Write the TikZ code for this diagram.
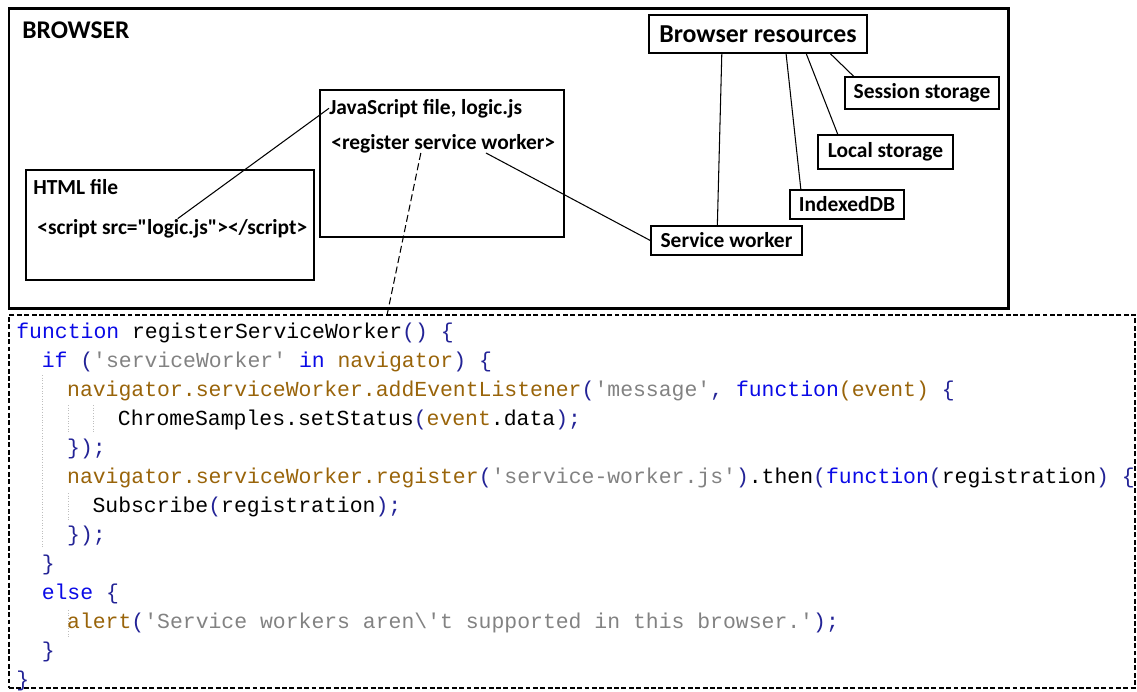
\documentclass[tikz,border=0pt]{standalone}
\usepackage{fontspec}
\setmainfont{Carlito}
\newfontfamily\codefont{Liberation Mono}
\usetikzlibrary{calc,fit}

\definecolor{jsblue}{RGB}{10,10,230}
\definecolor{jsbrown}{RGB}{153,100,10}
\definecolor{jsgray}{RGB}{130,130,130}
\definecolor{jsnavy}{RGB}{35,35,150}
\definecolor{guide}{RGB}{190,190,190}

\newcommand{\jskw}[1]{\textcolor{jsblue}{#1}}
\newcommand{\jsvar}[1]{\textcolor{jsbrown}{#1}}
\newcommand{\jsstr}[1]{\textcolor{jsgray}{#1}}
\newcommand{\jspun}[1]{\textcolor{jsnavy}{#1}}

\tikzset{
  frame/.style={draw, line width=1.7pt, inner sep=0pt},
  filebox/.style={draw, line width=0.8pt, inner sep=0pt},
  resbox/.style={draw, line width=0.8pt, inner sep=0pt,
    font=\bfseries\fontsize{12.2}{14}\selectfont},
  lbl/.style={anchor=base west, inner sep=0pt,
    font=\bfseries\fontsize{12.2}{14}\selectfont},
  cline/.style={anchor=base west, inner sep=0pt,
    font=\codefont\fontsize{12.2}{14}\selectfont},
  link/.style={line width=0.6pt},
  indent/.style={guide, densely dotted, line width=0.5pt}
}

\begin{document}
\begin{tikzpicture}[x=0.02cm, y=-0.02cm]
  \useasboundingbox (0,0) rectangle (1137,691);

  % browser frame
  \node[frame, fit={(9,8) (1008,308)}] (browser) {};
  \node[lbl, font=\bfseries\fontsize{14.5}{16}\selectfont] (title) at (22,38) {BROWSER};

  % html file
  \node[filebox, fit={(26,170) (314,280)}] (html) {};
  \node[lbl] (htmlname) at (33,194) {HTML file};
  \node[lbl] (htmltag) at (37,234) {<script src=\textquotedbl logic.js\textquotedbl></script>};

  % javascript file
  \node[filebox, fit={(320,90) (564,237)}] (js) {};
  \node[lbl] (jsname) at (329,114) {JavaScript file, logic.js};
  \node[lbl] (jsreg) at (331,149) {<register service worker>};

  % browser resources
  \node[resbox, minimum width=4.36cm, minimum height=0.76cm,
    font=\bfseries\fontsize{14.7}{16}\selectfont] (res) at (758,34) {Browser resources};
  \node[resbox, minimum width=3.08cm, minimum height=0.64cm] (session) at (922,93) {Session storage};
  \node[resbox, minimum width=2.7cm, minimum height=0.68cm] (local) at (885.5,152) {Local storage};
  \node[resbox, minimum width=2.28cm, minimum height=0.58cm] (idb) at (847,204.5) {IndexedDB};
  \node[resbox, minimum width=3.02cm, minimum height=0.58cm] (sw) at (726.5,240.5) {Service worker};

  \draw[link] ($(htmltag.north west)!0.52!(htmltag.north east)$) -- (jsname.west);
  \draw[link] ($(jsreg.south west)!0.69!(jsreg.south east)$) -- (sw.west);
  \draw[link] ($(res.south west)!0.335!(res.south east)$) -- ($(sw.north west)!0.44!(sw.north east)$);
  \draw[link] ($(res.south west)!0.628!(res.south east)$) -- ($(idb.north west)!0.1!(idb.north east)$);
  \draw[link] ($(res.south west)!0.72!(res.south east)$) -- ($(local.north west)!0.15!(local.north east)$);
  \draw[link] ($(res.south west)!0.83!(res.south east)$) -- ($(session.north west)!0.06!(session.north east)$);

  % code listing
  \node[draw, dash pattern=on 2.8pt off 1.4pt, line width=0.6pt, inner sep=0pt,
    fit={(9,315) (1135,688)}] (code) {};
  \draw[link, dash pattern=on 4pt off 2pt]
    ($(jsreg.south west)!0.4!(jsreg.south east)$) -- ($(code.north west)!0.336!(code.north east)$);

  \draw[indent] (42,375) -- (42,548);
  \draw[indent] (68,405) -- (68,433);
  \draw[indent] (93,405) -- (93,433);
  \draw[indent] (68,493) -- (68,520);
  \draw[indent] (68,610) -- (68,637);

  \node[cline] (c1) at (16,338) {\jskw{function} registerServiceWorker\jspun{() \{}};
  \node[cline] (c2) at (41.4,367) {\jskw{if} \jspun{(}\jsstr{'serviceWorker'} \jskw{in} \jsvar{navigator}\jspun{) \{}};
  \node[cline] (c3) at (66.8,396) {\jsvar{navigator.serviceWorker.addEventListener}\jspun{(}\jsstr{'message'}\jspun{,} \jskw{function}\jsvar{(event)} \jspun{\{}};
  \node[cline] (c4) at (117.6,425) {ChromeSamples.setStatus\jspun{(}\jsvar{event}.data\jspun{);}};
  \node[cline] (c5) at (66.8,454) {\jspun{\});}};
  \node[cline] (c6) at (66.8,483) {\jsvar{navigator.serviceWorker.register}\jspun{(}\jsstr{'service-worker.js'}\jspun{)}.then\jspun{(}\jskw{function}\jspun{(}registration\jspun{) \{}};
  \node[cline] (c7) at (92.2,512) {Subscribe\jspun{(}registration\jspun{);}};
  \node[cline] (c8) at (66.8,541) {\jspun{\});}};
  \node[cline] (c9) at (41.4,570) {\jspun{\}}};
  \node[cline] (c10) at (41.4,599) {\jskw{else} \jspun{\{}};
  \node[cline] (c11) at (66.8,628) {\jsvar{alert}\jspun{(}\jsstr{'Service workers aren\textbackslash't supported in this browser.'}\jspun{);}};
  \node[cline] (c12) at (41.4,657) {\jspun{\}}};
  \node[cline] (c13) at (16,686) {\jspun{\}}};
\end{tikzpicture}
\end{document}
